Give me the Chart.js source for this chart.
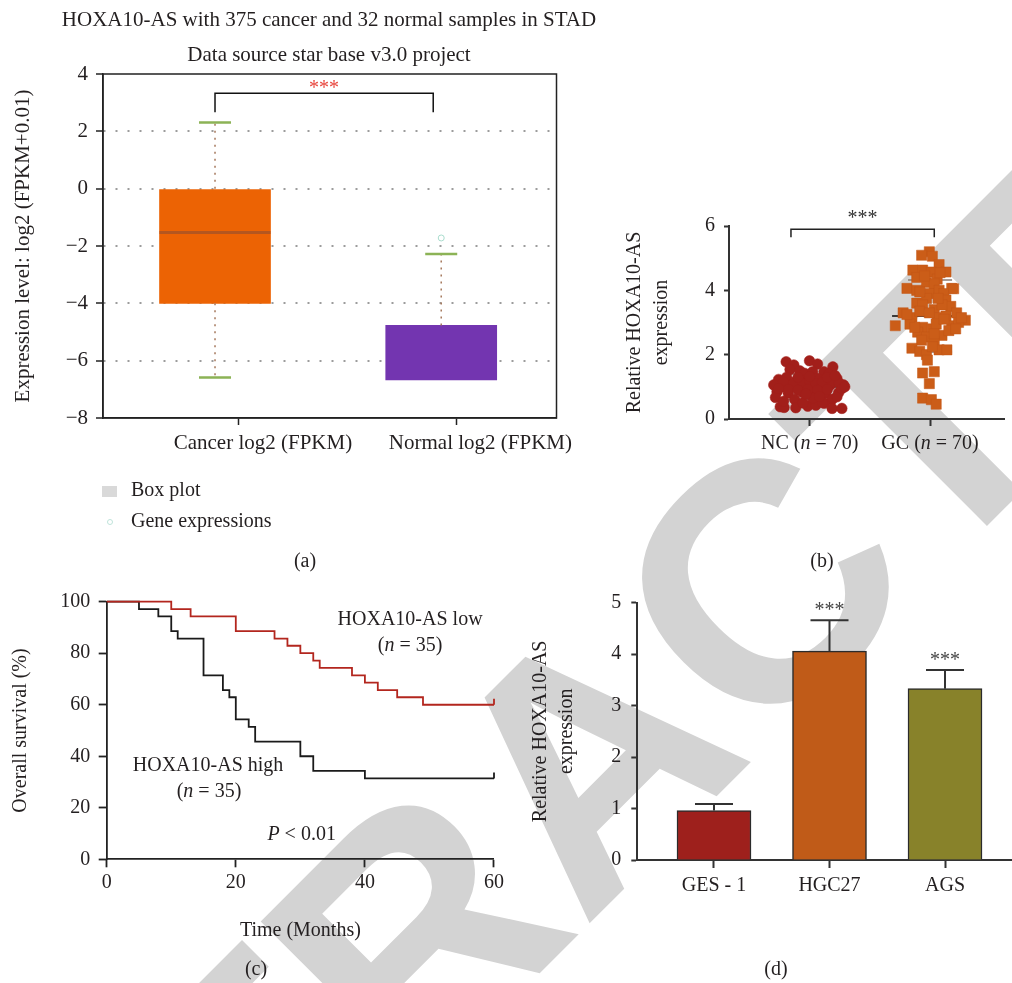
<!DOCTYPE html>
<html>
<head>
<meta charset="utf-8">
<script src="https://cdn.jsdelivr.net/npm/chart.js@4.4.0/dist/chart.umd.min.js"></script>
<style>
html,body{margin:0;padding:0;background:#fff;width:1012px;height:983px;overflow:hidden;}
#wm{position:absolute;left:0;top:0;width:1012px;height:983px;overflow:hidden;}
#wmText{position:absolute;left:587px;top:759px;transform:translate(-50%,-50%) rotate(-45deg);
  font-family:"Liberation Sans",sans-serif;font-weight:bold;font-size:340px;line-height:1;color:#d3d3d3;white-space:nowrap;}
canvas{position:absolute;left:0;top:0;}
</style>
</head>
<body>
<div id="wm"><div id="wmText">RETRACTED</div></div>
<canvas id="cA" width="1012" height="983"></canvas>
<canvas id="cB" width="1012" height="983"></canvas>
<canvas id="cC" width="1012" height="983"></canvas>
<canvas id="cD" width="1012" height="983"></canvas>
<script>
// ================= DATA =================
// Panel (a) box plot
const titleA1 = 'HOXA10-AS with 375 cancer and 32 normal samples in STAD';
const titleA2 = 'Data source star base v3.0 project';
const boxCategories = ['Cancer log2 (FPKM)', 'Normal log2 (FPKM)'];
const boxTickPos = [0, 1];
const boxCenters = [-0.11, 0.93];
const boxQ1 = [-4.0, -6.67];
const boxQ3 = [0.0, -4.77];
const boxMedian = [-1.53, null];
const whiskerHigh = [2.31, -2.28];
const whiskerLow = [-6.59, null];
const outlierValues = [[], [-1.72]];
const legendA = ['Box plot', 'Gene expressions'];

// Panel (b) scatter
const scatterLabels = ['NC (_n_ = 70)', 'GC (_n_ = 70)'];
const scatterTickPos = [0, 1];
const ncX = [-0.196,-0.132,-0.002,0.065,0.192,-0.164,-0.083,-0.043,0.024,0.119,
  0.159,-0.259,-0.192,-0.111,-0.030,0.065,0.226,-0.299,-0.232,-0.151,
  -0.083,0.024,0.091,0.172,0.281,-0.272,-0.178,-0.057,0.011,0.132,
  0.240,-0.285,-0.124,0.051,0.186,0.226,-0.245,-0.213,-0.116,-0.016,
  0.051,0.119,0.186,0.267,-0.218,-0.137,-0.057,0.000,0.049,0.105,
  0.186,0.243,-0.178,-0.097,-0.016,0.065,0.146,0.267,-0.218,-0.057,
  0.105,0.024,-0.097,0.000,0.146,0.291,-0.259,-0.032,0.081,0.210];
const ncY = [1.78,1.68,1.81,1.71,1.62,1.54,1.50,1.42,1.47,1.47,
  1.40,1.23,1.30,1.19,1.23,1.26,1.26,1.06,1.00,1.06,
  1.00,1.06,1.00,1.06,1.06,0.85,0.80,0.82,0.75,0.80,
  0.82,0.67,0.61,0.59,0.61,0.69,0.38,0.36,0.35,0.40,
  0.43,0.49,0.33,0.33,1.15,1.10,1.12,1.18,1.10,1.15,
  1.15,1.12,0.92,0.90,0.92,0.90,0.92,0.95,0.55,0.50,
  0.52,0.65,1.30,1.32,1.30,1.00,0.95,0.78,0.70,1.35];
const gcX = [0.994,0.930,1.019,1.075,0.857,0.938,1.011,1.132,0.889,1.059,
  0.970,1.035,0.808,0.889,0.994,1.075,1.180,1.116,0.970,1.132,
  0.889,0.938,1.172,1.035,1.221,0.776,0.849,1.059,1.132,1.293,
  0.711,0.938,1.019,1.180,1.237,0.897,1.099,0.970,0.930,1.035,
  0.849,0.914,1.075,1.140,0.970,0.978,0.938,1.035,0.994,0.938,
  1.011,1.051,0.914,1.099,1.196,0.833,1.051,1.156,0.994,1.083,
  0.954,1.116,0.873,1.019,1.213,0.808,1.067,0.914,1.261,1.035];
const gcY = [5.20,5.09,5.06,4.80,4.63,4.63,4.57,4.57,4.40,4.35,
  4.25,4.20,4.06,4.00,3.90,4.00,4.06,3.90,3.75,3.70,
  3.60,3.55,3.50,3.40,3.30,3.30,3.15,3.15,3.20,3.07,
  2.90,2.85,2.80,2.90,3.00,2.70,2.60,2.55,2.45,2.40,
  2.20,2.10,2.15,2.15,2.00,1.83,1.43,1.47,1.10,0.65,
  0.60,0.46,3.35,3.55,4.05,2.95,2.95,2.75,3.30,4.55,
  4.45,3.10,2.85,2.25,2.80,3.25,3.75,3.95,3.15,2.65];
const groupMean = [1.0, 3.2];
const groupSD = [0.4, 1.12];

// Panel (c) Kaplan-Meier
const kmLowT  = [0, 10, 13, 20, 26, 28, 30, 32, 33, 38, 40, 42, 45, 49, 60];
const kmLowS  = [100, 97.1, 94.3, 88.6, 85.7, 82.9, 80.0, 77.1, 74.3, 71.4, 68.6, 65.7, 62.9, 60.0, 60.0];
const kmHighT = [0, 5, 8, 10, 11, 15, 18, 19, 20, 22, 23, 30, 32, 40, 60];
const kmHighS = [100, 97.1, 94.3, 88.6, 85.7, 71.4, 65.7, 62.9, 54.3, 51.4, 45.7, 40.0, 34.3, 31.4, 31.4];
const kmCensorT = [60];

// Panel (d) bars
const barLabels = ['GES - 1', 'HGC27', 'AGS'];
const barPos = [0, 1, 2];
const barValues = [0.96, 4.06, 3.33];
const barErrors = [0.13, 0.60, 0.36];
const barSig = ['', '***', '***'];

// ================= STYLE / HELPERS =================
const SERIF = '"Liberation Serif","Times New Roman",serif';
const TXT = '#231f20';
Chart.defaults.font.family = SERIF;
Chart.defaults.font.size = 20;
Chart.defaults.color = TXT;
Chart.defaults.animation = false;
Chart.defaults.responsive = false;
Chart.defaults.events = [];
Chart.defaults.plugins.legend.display = false;
Chart.defaults.plugins.tooltip.enabled = false;

function fnt(size, italic) { return (italic ? 'italic ' : '') + size + 'px ' + SERIF; }
function rich(str) { return str.split('_').map((t, k) => ({t, i: k % 2 === 1})).filter(s => s.t.length); }
function drawText(ctx, str, x, y, size, opts = {}) {
  const segs = rich(str);
  ctx.save();
  ctx.fillStyle = opts.color || TXT;
  ctx.textBaseline = 'middle';
  ctx.textAlign = 'left';
  let w = 0;
  segs.forEach(s => { ctx.font = fnt(size, s.i); w += ctx.measureText(s.t).width; });
  let cx = opts.align === 'left' ? x : x - w / 2;
  segs.forEach(s => { ctx.font = fnt(size, s.i); ctx.fillText(s.t, cx, y); cx += ctx.measureText(s.t).width; });
  ctx.restore();
}
const fixW = w => s => { s.width = w; };
const fixH = h => s => { s.height = h; };
const AX = '#222';

// ================= (a) BOX PLOT =================
const boxPlugin = {
  id: 'boxA',
  afterDatasetsDraw(chart) {
    const {ctx, chartArea: ca, scales: {x, y}} = chart;
    ctx.save();
    boxCenters.forEach((c, i) => {
      const px = x.getPixelForValue(c);
      ctx.setLineDash([2, 5]);
      ctx.strokeStyle = '#a5785c'; ctx.lineWidth = 1.5;
      ctx.beginPath();
      ctx.moveTo(px, y.getPixelForValue(boxQ3[i])); ctx.lineTo(px, y.getPixelForValue(whiskerHigh[i]));
      if (whiskerLow[i] !== null) { ctx.moveTo(px, y.getPixelForValue(boxQ1[i])); ctx.lineTo(px, y.getPixelForValue(whiskerLow[i])); }
      ctx.stroke();
      ctx.setLineDash([]);
      ctx.strokeStyle = '#8cb356'; ctx.lineWidth = 2.5;
      ctx.beginPath();
      const hy = y.getPixelForValue(whiskerHigh[i]);
      ctx.moveTo(px - 16, hy); ctx.lineTo(px + 16, hy);
      if (whiskerLow[i] !== null) { const ly = y.getPixelForValue(whiskerLow[i]); ctx.moveTo(px - 16, ly); ctx.lineTo(px + 16, ly); }
      ctx.stroke();
      if (boxMedian[i] !== null) {
        const my = y.getPixelForValue(boxMedian[i]);
        ctx.strokeStyle = '#b4561f'; ctx.lineWidth = 3;
        ctx.beginPath(); ctx.moveTo(px - 55.5, my); ctx.lineTo(px + 55.5, my); ctx.stroke();
      }
      outlierValues[i].forEach(v => {
        ctx.strokeStyle = '#a9dccd'; ctx.lineWidth = 1;
        ctx.beginPath(); ctx.arc(px, y.getPixelForValue(v), 3, 0, Math.PI * 2); ctx.stroke();
      });
    });
    // frame
    ctx.strokeStyle = AX; ctx.lineWidth = 1.5;
    ctx.strokeRect(ca.left, ca.top, ca.right - ca.left, ca.bottom - ca.top);
    // significance bracket
    const x1 = x.getPixelForValue(boxCenters[0]), x2 = x.getPixelForValue(boxCenters[1]) - 8;
    const yb = y.getPixelForValue(3.33), yd = y.getPixelForValue(2.67);
    ctx.strokeStyle = '#111'; ctx.lineWidth = 1.5;
    ctx.beginPath(); ctx.moveTo(x1, yd); ctx.lineTo(x1, yb); ctx.lineTo(x2, yb); ctx.lineTo(x2, yd); ctx.stroke();
    drawText(ctx, '***', (x1 + x2) / 2, y.getPixelForValue(3.48), 20, {color: '#e8453c'});
    // titles, legend, panel label
    drawText(ctx, titleA1, 329, 20, 21);
    drawText(ctx, titleA2, 329, 55, 21);
    ctx.fillStyle = '#d9d9d9'; ctx.fillRect(102, 486, 15, 11);
    drawText(ctx, legendA[0], 131, 491, 20, {align: 'left'});
    ctx.strokeStyle = '#bfe3da'; ctx.lineWidth = 1;
    ctx.beginPath(); ctx.arc(110, 522, 2.5, 0, Math.PI * 2); ctx.stroke();
    drawText(ctx, legendA[1], 131, 522, 20, {align: 'left'});
    drawText(ctx, '(a)', 305, 562, 20);
    ctx.restore();
  }
};

new Chart(document.getElementById('cA'), {
  type: 'bar',
  data: {datasets: [{
    data: boxCenters.map((c, i) => ({x: c, y: [boxQ1[i], boxQ3[i]]})),
    backgroundColor: ['#EC6304', '#7335B0'],
    borderWidth: 0, barThickness: 111
  }]},
  options: {
    layout: {padding: {left: 0, top: 74, right: 1012 - 556.5, bottom: 983 - 418 - 60}},
    scales: {
      x: {
        type: 'linear', min: -0.625, max: 1.46, offset: false,
        afterBuildTicks: a => { a.ticks = boxTickPos.map(v => ({value: v})); },
        ticks: {callback: (v, i) => boxCategories[i], labelOffset: 24, padding: 6, font: {size: 21}, autoSkip: false, maxRotation: 0},
        grid: {offset: false, drawOnChartArea: false, tickLength: 7, tickColor: AX, tickWidth: 1.5},
        border: {color: AX, width: 1.5},
        afterFit: fixH(60)
      },
      y: {
        min: -8, max: 4,
        ticks: {stepSize: 2, padding: 8, font: {size: 21}, callback: v => String(v).replace('-', '\u2212')},
        grid: {color: c => (c.tick && (c.tick.value === 4 || c.tick.value === -8)) ? 'rgba(0,0,0,0)' : '#9c9c9c',
               lineWidth: 2, tickLength: 7, tickColor: AX, tickWidth: 1.5},
        border: {color: AX, width: 1.5, dash: [2, 10]},
        title: {display: true, text: 'Expression level: log2 (FPKM+0.01)', font: {size: 21}, padding: {top: 11, bottom: 0}},
        afterFit: fixW(103)
      }
    }
  },
  plugins: [boxPlugin]
});

// ================= (b) SCATTER =================
const scatterPlugin = {
  id: 'scatB',
  beforeDatasetsDraw(chart) {
    const {ctx, scales: {x, y}} = chart;
    ctx.save();
    scatterTickPos.forEach((p, i) => {
      const px = x.getPixelForValue(p);
      ctx.strokeStyle = '#8a7a70'; ctx.lineWidth = 1.5;
      [groupMean[i] + groupSD[i], groupMean[i] - groupSD[i]].forEach(v => {
        const py = y.getPixelForValue(v);
        ctx.beginPath(); ctx.moveTo(px - 22, py); ctx.lineTo(px + 22, py); ctx.stroke();
      });
      const my = y.getPixelForValue(groupMean[i]);
      ctx.strokeStyle = '#3a3a3a'; ctx.lineWidth = 2;
      ctx.beginPath(); ctx.moveTo(px - 38, my); ctx.lineTo(px + 32, my); ctx.stroke();
    });
    ctx.restore();
  },
  afterDraw(chart) {
    const {ctx, scales: {x, y}} = chart;
    ctx.save();
    scatterTickPos.forEach((p, i) => drawText(ctx, scatterLabels[i], x.getPixelForValue(p), 444, 20));
    const x1 = x.getPixelForValue(-0.156), x2 = x.getPixelForValue(1.035);
    const yb = y.getPixelForValue(5.9), yd = y.getPixelForValue(5.65);
    ctx.strokeStyle = '#222'; ctx.lineWidth = 1.5;
    ctx.beginPath(); ctx.moveTo(x1, yd); ctx.lineTo(x1, yb); ctx.lineTo(x2, yb); ctx.lineTo(x2, yd); ctx.stroke();
    drawText(ctx, '***', (x1 + x2) / 2, y.getPixelForValue(6.22), 20, {color: '#333'});
    drawText(ctx, '(b)', 822, 562, 20);
    ctx.restore();
  }
};

new Chart(document.getElementById('cB'), {
  type: 'scatter',
  data: {datasets: [
    {data: ncX.map((v, i) => ({x: v, y: ncY[i]})), pointStyle: 'circle', pointRadius: 5.3,
     backgroundColor: '#a21f1a', borderColor: '#a21f1a', borderWidth: 0.5},
    {data: gcX.map((v, i) => ({x: v, y: gcY[i]})), pointStyle: 'rect', pointRadius: 7.2,
     backgroundColor: '#cb5d18', borderColor: '#c25716', borderWidth: 0.5}
  ]},
  options: {
    layout: {padding: {left: 600, top: 226, right: 0, bottom: 983 - 419 - 60}},
    scales: {
      x: {
        type: 'linear', min: -0.671, max: 1.617,
        afterBuildTicks: a => { a.ticks = scatterTickPos.map(v => ({value: v})); },
        ticks: {callback: () => '', padding: 6},
        grid: {drawOnChartArea: false, tickLength: 7, tickColor: '#333', tickWidth: 2},
        border: {color: '#333', width: 2},
        afterFit: fixH(60)
      },
      y: {
        min: 0, max: 6,
        ticks: {stepSize: 2, padding: 9},
        grid: {drawOnChartArea: false, tickLength: 5, tickColor: '#333', tickWidth: 2},
        border: {color: '#333', width: 2},
        title: {display: true, text: ['Relative HOXA10-AS', 'expression'], font: {size: 20, lineHeight: 1.35}, padding: {top: 21.5, bottom: 0}},
        afterFit: fixW(129)
      }
    }
  },
  plugins: [scatterPlugin]
});

// ================= (c) KAPLAN-MEIER =================
const kmPlugin = {
  id: 'kmC',
  afterDraw(chart) {
    const {ctx, scales: {x, y}} = chart;
    ctx.save();
    ctx.lineWidth = 1.8;
    [[kmLowS, '#b3261e'], [kmHighS, '#1a1a1a']].forEach(([s, col]) => {
      kmCensorT.forEach(t => {
        const px = x.getPixelForValue(t), py = y.getPixelForValue(s[s.length - 1]);
        ctx.strokeStyle = col; ctx.beginPath(); ctx.moveTo(px, py); ctx.lineTo(px, py - 6); ctx.stroke();
      });
    });
    drawText(ctx, 'HOXA10-AS low', x.getPixelForValue(47.0), y.getPixelForValue(92.9), 20);
    drawText(ctx, '(_n_ = 35)', x.getPixelForValue(47.0), y.getPixelForValue(82.9), 20);
    drawText(ctx, 'HOXA10-AS high', x.getPixelForValue(15.7), y.getPixelForValue(36.2), 20);
    drawText(ctx, '(_n_ = 35)', x.getPixelForValue(15.85), y.getPixelForValue(26.2), 20);
    drawText(ctx, '_P_ < 0.01', x.getPixelForValue(30.2), y.getPixelForValue(9.4), 20);
    drawText(ctx, '(c)', 256, 970, 20);
    ctx.restore();
  }
};

new Chart(document.getElementById('cC'), {
  type: 'line',
  data: {datasets: [
    {data: kmLowT.map((t, i) => ({x: t, y: kmLowS[i]})), borderColor: '#b3261e', borderWidth: 1.8,
     stepped: 'before', pointRadius: 0, fill: false, clip: 6},
    {data: kmHighT.map((t, i) => ({x: t, y: kmHighS[i]})), borderColor: '#1a1a1a', borderWidth: 1.8,
     stepped: 'before', pointRadius: 0, fill: false, clip: 6}
  ]},
  options: {
    layout: {padding: {left: 0, top: 601.7, right: 1012 - 494, bottom: 983 - 859.3 - 100}},
    scales: {
      x: {
        type: 'linear', min: 0, max: 60,
        ticks: {stepSize: 20, padding: 3},
        grid: {drawOnChartArea: false, tickLength: 8, tickColor: AX, tickWidth: 1.8},
        border: {color: AX, width: 1.8},
        title: {display: true, text: 'Time (Months)', font: {size: 20}, padding: {top: 0, bottom: 17}},
        afterFit: fixH(100)
      },
      y: {
        min: 0, max: 100,
        ticks: {stepSize: 20, padding: 8.5},
        grid: {drawOnChartArea: false, tickLength: 8, tickColor: AX, tickWidth: 1.8},
        border: {color: AX, width: 1.8},
        title: {display: true, text: 'Overall survival (%)', font: {size: 20}, padding: {top: 9, bottom: 0}},
        afterFit: fixW(106.7)
      }
    }
  },
  plugins: [kmPlugin]
});

// ================= (d) BARS =================
const barPlugin = {
  id: 'barD',
  afterDatasetsDraw(chart) {
    const {ctx, scales: {x, y}} = chart;
    ctx.save();
    ctx.strokeStyle = '#333'; ctx.lineWidth = 2;
    barPos.forEach((p, i) => {
      const px = x.getPixelForValue(p);
      const y0 = y.getPixelForValue(barValues[i]);
      const y1 = y.getPixelForValue(barValues[i] + barErrors[i]);
      ctx.beginPath(); ctx.moveTo(px, y0); ctx.lineTo(px, y1);
      ctx.moveTo(px - 19, y1); ctx.lineTo(px + 19, y1); ctx.stroke();
      if (barSig[i]) drawText(ctx, barSig[i], px, y1 - 9, 20, {color: '#444'});
    });
    drawText(ctx, '(d)', 776, 970, 20);
    ctx.restore();
  }
};

new Chart(document.getElementById('cD'), {
  type: 'bar',
  data: {datasets: [{
    data: barPos.map((p, i) => ({x: p, y: barValues[i]})),
    backgroundColor: ['#9e201c', '#c05b18', '#88822a'],
    borderColor: '#2b2b2b', borderWidth: 1.5, barThickness: 74
  }]},
  options: {
    layout: {padding: {left: 500, top: 602.7, right: 0, bottom: 983 - 860 - 60}},
    scales: {
      x: {
        type: 'linear', min: -0.664, max: 2.58, offset: false,
        afterBuildTicks: a => { a.ticks = barPos.map(v => ({value: v})); },
        ticks: {callback: (v, i) => barLabels[i], padding: 6, autoSkip: false, maxRotation: 0},
        grid: {offset: false, drawOnChartArea: false, tickLength: 8, tickColor: '#333', tickWidth: 2},
        border: {color: '#333', width: 2},
        afterFit: fixH(60)
      },
      y: {
        min: 0, max: 5,
        ticks: {stepSize: 1, padding: 10},
        grid: {drawOnChartArea: false, tickLength: 6, tickColor: '#333', tickWidth: 2},
        border: {color: '#333', width: 2},
        title: {display: true, text: ['Relative HOXA10-AS', 'expression'], font: {size: 20, lineHeight: 1.3}, padding: {top: 27.7, bottom: 0}},
        afterFit: fixW(137.3)
      }
    }
  },
  plugins: [barPlugin]
});
</script>
</body>
</html>
